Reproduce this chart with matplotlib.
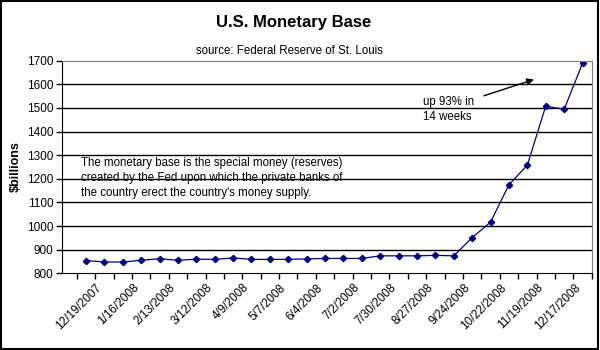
import matplotlib.pyplot as plt
import matplotlib.transforms as mtransforms
from matplotlib.patches import Rectangle

plt.rcParams['font.family'] = ['Liberation Sans', 'DejaVu Sans']

# biweekly monetary base, $ billions (12/19/2007 .. 12/31/2008)
dates = ['12/19/2007', '1/2/2008', '1/16/2008', '1/30/2008', '2/13/2008', '2/27/2008',
         '3/12/2008', '3/26/2008', '4/9/2008', '4/23/2008', '5/7/2008', '5/21/2008',
         '6/4/2008', '6/18/2008', '7/2/2008', '7/16/2008', '7/30/2008', '8/13/2008',
         '8/27/2008', '9/10/2008', '9/24/2008', '10/8/2008', '10/22/2008', '11/5/2008',
         '11/19/2008', '12/3/2008', '12/17/2008', '12/31/2008']
base = [854, 848, 848, 855, 862, 855, 860, 859, 865, 859, 859, 859, 861, 863,
        863, 863, 874, 874, 874, 876, 874, 951, 1017, 1175, 1258, 1508, 1494, 1689]
yticks = [800, 900, 1000, 1100, 1200, 1300, 1400, 1500, 1600, 1700]

fig = plt.figure(figsize=(6, 3.5), dpi=100)
ax = fig.add_axes([0.1028, 0.2191, 0.8834, 0.6075])

x = list(range(len(base)))
ax.plot(x, base, color='#000080', lw=0.9, marker='D', ms=3.2, mec='#000080', mfc='#000080')

ax.set_ylim(800, 1700)
ax.set_xlim(-1.32, len(base) - 0.5)
ax.set_yticks(yticks)
ax.set_yticklabels([str(v) for v in yticks], fontsize=8.5)
for v in yticks[1:-1]:
    ax.axhline(v, color='black', lw=1, zorder=0)

# category boundaries as tick marks, labels every 4 weeks
ax.set_xticks([i - 0.5 for i in range(len(base) + 1)], minor=True)
ax.set_xticks(x[::2])
ax.set_xticklabels(dates[::2], rotation=45, ha='right', va='top',
                   rotation_mode='anchor', fontsize=8.5)
ax.tick_params(axis='x', which='major', length=0, pad=6)
ax.tick_params(axis='x', which='minor', length=4, width=1, direction='out')
ax.tick_params(axis='y', length=4, width=1, direction='out', pad=2)
off = mtransforms.ScaledTranslation(0.1, 0, fig.dpi_scale_trans)
for lab in ax.get_xticklabels():
    lab.set_transform(lab.get_transform() + off)

ax.spines['left'].set_color('black')
ax.spines['bottom'].set_color('black')
ax.spines['top'].set_color('#808080')
ax.spines['right'].set_color('#808080')

ax.set_ylabel('$billions', fontsize=9, fontweight='bold', labelpad=4)

fig.text(0.49, 0.935, 'U.S. Monetary Base', ha='center', va='center',
         fontsize=12, fontweight='bold')
fig.text(0.483, 0.855, 'source: Federal Reserve of St. Louis', ha='center',
         va='center', fontsize=8.3)

ax.text(0.036, 0.545, 'The monetary base is the special money (reserves)\n'
        'created by the Fed upon which the private banks of\n'
        "the country erect the country's money supply.",
        transform=ax.transAxes, ha='left', va='top', fontsize=8.3, linespacing=1.3)

ax.annotate('', xy=(24.5, 1624), xytext=(21.5, 1548),
            arrowprops=dict(arrowstyle='-|>', color='black', lw=1, mutation_scale=10))
ax.text(18.3, 1552, 'up 93% in\n14 weeks', ha='left', va='top', fontsize=8.3,
        linespacing=1.35)

fig.patches.append(Rectangle((0.002, 0.003), 0.995, 0.994, transform=fig.transFigure,
                             fill=False, edgecolor='black', lw=1.5))

fig.savefig('out.png', dpi=100)
